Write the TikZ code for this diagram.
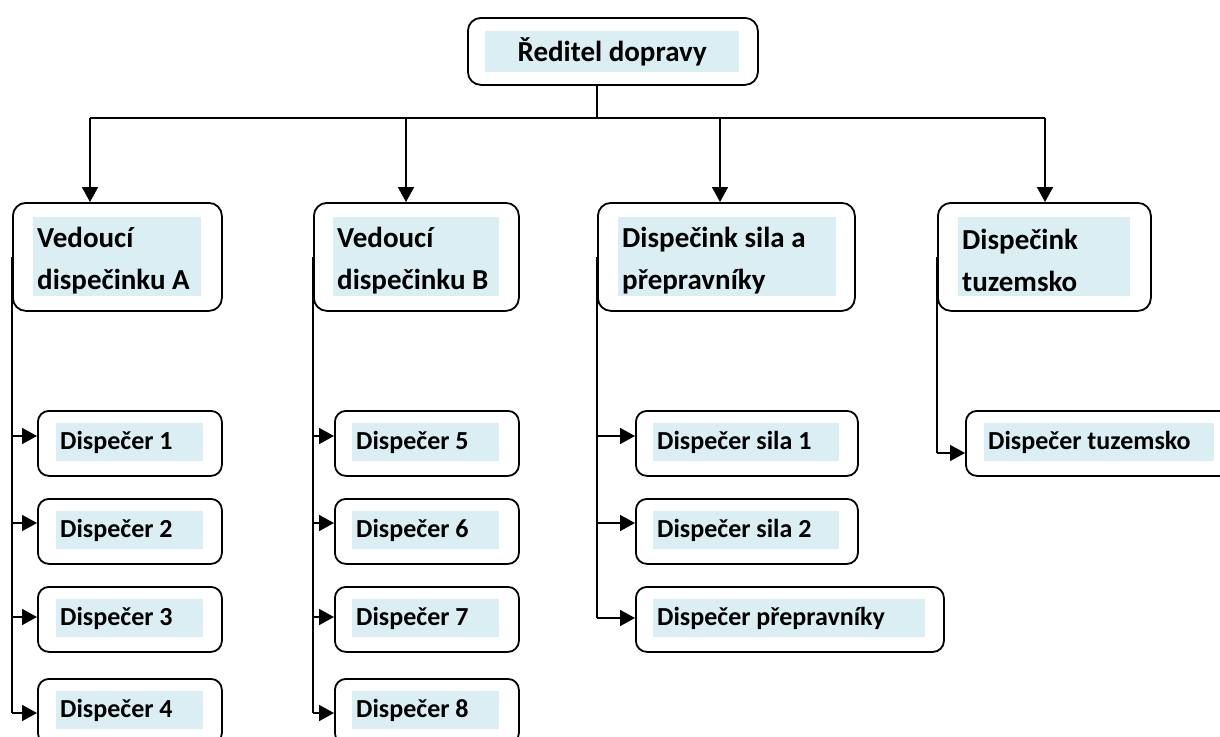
\documentclass[tikz,border=0pt]{standalone}
\usepackage{fontspec}
\setmainfont{Carlito}
\usetikzlibrary{arrows.meta}
\definecolor{lblue}{HTML}{DAEEF3}
\newcommand{\lbtext}[2]{\parbox{#1}{\raggedright #2}}
\newcommand{\lbtwolines}[2]{\parbox{#1}{\raggedright\vspace*{8pt}#2}}
\begin{document}
\begin{tikzpicture}[x=1pt,y=-1pt,
  box/.style={draw, line width=1.8pt, rounded corners=13pt, anchor=north west, inner sep=0pt},
  lbl/.style={fill=lblue, anchor=north west, inner xsep=4pt, inner ysep=0pt, font=\bfseries\fontsize{26}{30}\selectfont},
  lbltwo/.style={lbl, font=\bfseries\fontsize{29}{42}\selectfont},
  wire/.style={line width=1.5pt},
  arr/.style={line width=1.7pt, -{Triangle[length=15pt,width=16pt]}}
]
\clip (0,0) rectangle (1220,736);
% top
\node[box, minimum width=290pt, minimum height=67pt] (top) at (467,17) {};
\node[lbl, font=\bfseries\fontsize{29}{34}\selectfont, minimum height=41pt] (topl) at (485,31) {\parbox{246pt}{\centering Ředitel dopravy}};
% level 2
\node[box, minimum width=209pt, minimum height=108pt] (A) at (12,202) {};
\node[lbltwo, minimum height=79pt] (Al) at (33,217) {\lbtwolines{160pt}{Vedoucí\\dispečinku A}};
\node[box, minimum width=205pt, minimum height=108pt] (B) at (313,202) {};
\node[lbltwo, minimum height=79pt] (Bl) at (333,217) {\lbtwolines{158pt}{Vedoucí\\dispečinku B}};
\node[box, minimum width=257pt, minimum height=108pt] (C) at (597,202) {};
\node[lbltwo, minimum height=79pt] (Cl) at (618,217) {\lbtwolines{210pt}{Dispečink sila a\\přepravníky}};
\node[box, minimum width=213pt, minimum height=108pt] (D) at (937,202) {};
\node[lbltwo, minimum height=79pt] (Dl) at (958,217) {\lbtwolines{164pt}{Dispečink\\tuzemsko}};
% level 3 column A
\foreach \i/\y/\t in {1/410/{Dispečer 1},2/498/{Dispečer 2},3/586/{Dispečer 3},4/678/{Dispečer 4}}{
  \node[box, rounded corners=11pt, minimum width=184pt, minimum height=65pt] (A\i) at (37,\y) {};
  \node[lbl, minimum height=38pt] (A\i l) at (56,\y+13) {\lbtext{139pt}{\t}};
}
% level 3 column B
\foreach \i/\y/\t in {1/410/{Dispečer 5},2/498/{Dispečer 6},3/586/{Dispečer 7},4/678/{Dispečer 8}}{
  \node[box, rounded corners=11pt, minimum width=184pt, minimum height=65pt] (B\i) at (334,\y) {};
  \node[lbl, minimum height=38pt] (B\i l) at (352,\y+13) {\lbtext{139pt}{\t}};
}
% level 3 column C
\node[box, rounded corners=11pt, minimum width=222pt, minimum height=65pt] (C1) at (635,410) {};
\node[lbl, minimum height=38pt] (C1l) at (653,423) {\lbtext{178pt}{Dispečer sila 1}};
\node[box, rounded corners=11pt, minimum width=222pt, minimum height=65pt] (C2) at (635,498) {};
\node[lbl, minimum height=38pt] (C2l) at (653,511) {\lbtext{178pt}{Dispečer sila 2}};
\node[box, rounded corners=11pt, minimum width=308pt, minimum height=65pt] (C3) at (635,586) {};
\node[lbl, minimum height=38pt] (C3l) at (653,599) {\lbtext{264pt}{Dispečer přepravníky}};
% level 3 column D
\node[box, rounded corners=11pt, minimum width=300pt, minimum height=65pt] (D1) at (965,410) {};
\node[lbl, minimum height=38pt] (D1l) at (984,423) {\lbtext{222pt}{Dispečer tuzemsko}};
% bus
\coordinate (bTop) at (597,118);
\coordinate (bA) at (90,118);
\coordinate (bB) at (406,118);
\coordinate (bC) at (720,118);
\coordinate (bD) at (1045,118);
\draw[wire] (top.south -| bTop) -- (bTop);
\draw[wire] (bA) -- (bD);
\draw[arr] (bA) -- (bA |- A.north);
\draw[arr] (bB) -- (bB |- B.north);
\draw[arr] (bC) -- (bC |- C.north);
\draw[arr] (bD) -- (bD |- D.north);
% trunks
\coordinate (tA) at (12,713);
\coordinate (tB) at (313,713);
\coordinate (tC) at (597,618);
\coordinate (tD) at (937,453);
\draw[wire] (A.west) -- (tA);
\draw[wire] (B.west) -- (tB);
\draw[wire] (C.west) -- (tC);
\draw[wire] (D.west) -- (tD);
\foreach \n/\y in {A1/436,A2/523,A3/617,A4/713}{
  \draw[arr] (12,\y) -- (\n.west |- 0,\y);
}
\foreach \n/\y in {B1/436,B2/523,B3/617,B4/713}{
  \draw[arr] (313,\y) -- (\n.west |- 0,\y);
}
\foreach \n/\y in {C1/436,C2/523,C3/618}{
  \draw[arr] (597,\y) -- (\n.west |- 0,\y);
}
\draw[arr] (tD) -- (D1.west |- tD);
\end{tikzpicture}
\end{document}
